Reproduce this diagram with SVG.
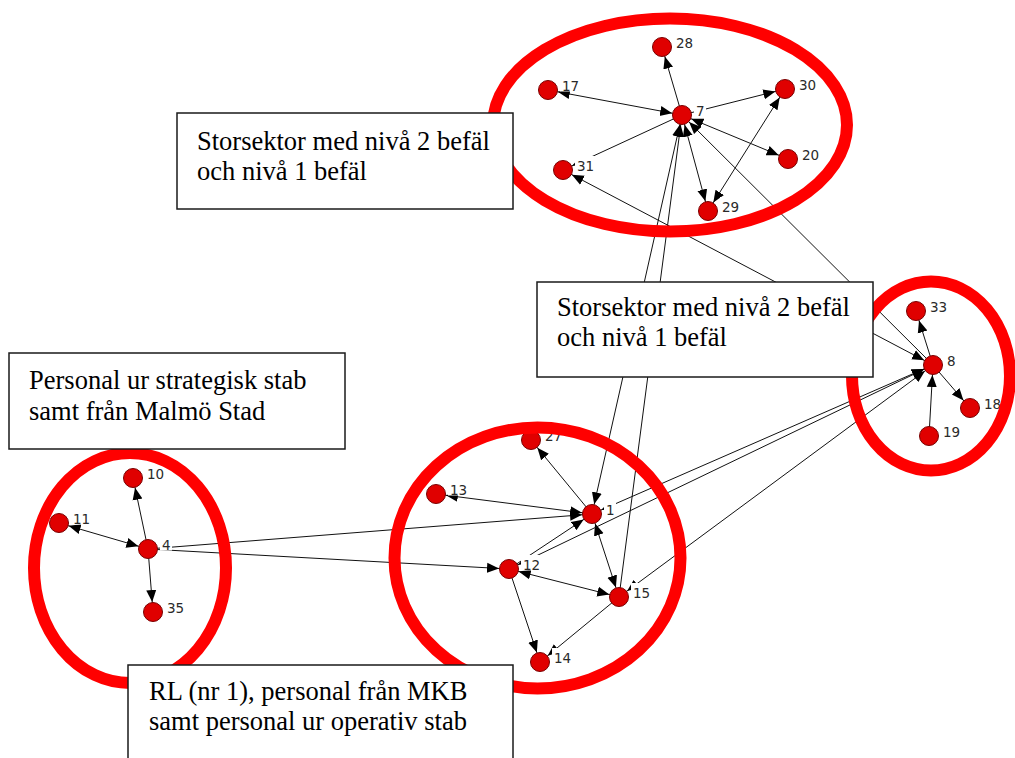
<svg xmlns="http://www.w3.org/2000/svg" width="1015" height="758" viewBox="0 0 1015 758">
<style>
.e{stroke:#111;stroke-width:1;fill:none}
.a{marker-end:url(#ah)}
.b{marker-start:url(#ah);marker-end:url(#ah)}
.n circle{fill:#e00000;stroke:#7a0000;stroke-width:1}
.n rect{fill:#fff}
.n text{font-family:"DejaVu Sans",sans-serif;font-size:13.5px;fill:#2a2a2a}
.ring{fill:none;stroke:#ff0000;stroke-width:12}
.box rect{fill:#fff;stroke:#1a1a1a;stroke-width:1.5}
.box text{font-family:"Liberation Serif","Times New Roman",serif;font-size:26.5px;fill:#000}
</style>
<defs>
<marker id="ah" markerUnits="userSpaceOnUse" markerWidth="24" markerHeight="12" viewBox="0 -6 24 12" refX="22" refY="0" orient="auto-start-reverse"><path d="M0,-5L12,0L0,5z" fill="#000"/></marker>
</defs>
<rect width="1015" height="758" fill="#fff"/>
<g id="connectors">
<line class="e a" x1="682" y1="115" x2="662" y2="47"/>
<line class="e b" x1="548" y1="90" x2="682" y2="115"/>
<line class="e a" x1="682" y1="115" x2="785" y2="89"/>
<line class="e b" x1="682" y1="115" x2="788" y2="159"/>
<line class="e a" x1="682" y1="115" x2="563" y2="170"/>
<line class="e b" x1="682" y1="115" x2="708" y2="211"/>
<line class="e b" x1="785" y1="89" x2="708" y2="211"/>
<line class="e b" x1="592" y1="514" x2="682" y2="115"/>
<line class="e a" x1="619" y1="597" x2="682" y2="115"/>
<line class="e a" x1="933" y1="365" x2="682" y2="115"/>
<line class="e b" x1="933" y1="365" x2="563" y2="170"/>
<line class="e a" x1="933" y1="365" x2="916" y2="311"/>
<line class="e a" x1="933" y1="365" x2="970" y2="408"/>
<line class="e a" x1="929" y1="436" x2="933" y2="365"/>
<line class="e a" x1="148" y1="549" x2="133" y2="478"/>
<line class="e b" x1="59" y1="523" x2="148" y2="549"/>
<line class="e a" x1="148" y1="549" x2="153" y2="612"/>
<line class="e a" x1="148" y1="549" x2="592" y2="514"/>
<line class="e a" x1="148" y1="549" x2="509" y2="569"/>
<line class="e a" x1="592" y1="514" x2="531" y2="440"/>
<line class="e b" x1="436" y1="494" x2="592" y2="514"/>
<line class="e a" x1="509" y1="569" x2="592" y2="514"/>
<line class="e b" x1="592" y1="514" x2="619" y2="597"/>
<line class="e b" x1="509" y1="569" x2="619" y2="597"/>
<line class="e a" x1="509" y1="569" x2="540" y2="662"/>
<line class="e a" x1="619" y1="597" x2="540" y2="662"/>
<line class="e b" x1="592" y1="514" x2="933" y2="365"/>
<line class="e b" x1="509" y1="569" x2="933" y2="365"/>
<line class="e b" x1="619" y1="597" x2="933" y2="365"/>
</g>
<g id="n28" class="n"><rect x="674" y="33" width="20" height="15.5"/><circle cx="662" cy="47" r="9.5"/><text x="676" y="48">28</text></g>
<g id="n17" class="n"><rect x="560" y="76" width="20" height="15.5"/><circle cx="548" cy="90" r="9.5"/><text x="562" y="91">17</text></g>
<g id="n7" class="n"><rect x="694" y="101" width="12" height="15.5"/><circle cx="682" cy="115" r="9.5"/><text x="696" y="116">7</text></g>
<g id="n30" class="n"><rect x="797" y="75" width="20" height="15.5"/><circle cx="785" cy="89" r="9.5"/><text x="799" y="90">30</text></g>
<g id="n20" class="n"><rect x="800" y="145" width="20" height="15.5"/><circle cx="788" cy="159" r="9.5"/><text x="802" y="160">20</text></g>
<g id="n31" class="n"><rect x="575" y="156" width="20" height="15.5"/><circle cx="563" cy="170" r="9.5"/><text x="577" y="171">31</text></g>
<g id="n29" class="n"><rect x="720" y="197" width="20" height="15.5"/><circle cx="708" cy="211" r="9.5"/><text x="722" y="212">29</text></g>
<g id="n33" class="n"><rect x="928" y="297" width="20" height="15.5"/><circle cx="916" cy="311" r="9.5"/><text x="930" y="312">33</text></g>
<g id="n8" class="n"><rect x="945" y="351" width="12" height="15.5"/><circle cx="933" cy="365" r="9.5"/><text x="947" y="366">8</text></g>
<g id="n18" class="n"><rect x="982" y="394" width="20" height="15.5"/><circle cx="970" cy="408" r="9.5"/><text x="984" y="409">18</text></g>
<g id="n19" class="n"><rect x="941" y="422" width="20" height="15.5"/><circle cx="929" cy="436" r="9.5"/><text x="943" y="437">19</text></g>
<g id="n10" class="n"><rect x="145" y="464" width="20" height="15.5"/><circle cx="133" cy="478" r="9.5"/><text x="147" y="479">10</text></g>
<g id="n11" class="n"><rect x="71" y="509" width="20" height="15.5"/><circle cx="59" cy="523" r="9.5"/><text x="73" y="524">11</text></g>
<g id="n4" class="n"><rect x="160" y="535" width="12" height="15.5"/><circle cx="148" cy="549" r="9.5"/><text x="162" y="550">4</text></g>
<g id="n35" class="n"><rect x="165" y="598" width="20" height="15.5"/><circle cx="153" cy="612" r="9.5"/><text x="167" y="613">35</text></g>
<g id="n27" class="n"><rect x="543" y="426" width="20" height="15.5"/><circle cx="531" cy="440" r="9.5"/><text x="545" y="441">27</text></g>
<g id="n13" class="n"><rect x="448" y="480" width="20" height="15.5"/><circle cx="436" cy="494" r="9.5"/><text x="450" y="495">13</text></g>
<g id="n1" class="n"><rect x="604" y="500" width="12" height="15.5"/><circle cx="592" cy="514" r="9.5"/><text x="606" y="515">1</text></g>
<g id="n12" class="n"><rect x="521" y="555" width="20" height="15.5"/><circle cx="509" cy="569" r="9.5"/><text x="523" y="570">12</text></g>
<g id="n15" class="n"><rect x="631" y="583" width="20" height="15.5"/><circle cx="619" cy="597" r="9.5"/><text x="633" y="598">15</text></g>
<g id="n14" class="n"><rect x="552" y="648" width="20" height="15.5"/><circle cx="540" cy="662" r="9.5"/><text x="554" y="663">14</text></g>
<g id="rings">
<ellipse class="ring" cx="670" cy="125" rx="177" ry="106.5"/>
<ellipse class="ring" cx="931" cy="376" rx="79" ry="94.5"/>
<ellipse class="ring" cx="130" cy="568" rx="96" ry="115"/>
<ellipse class="ring" cx="537.5" cy="558" rx="143" ry="130.5" stroke-width="13"/>
</g>
<g id="boxA" class="box"><rect x="177" y="113" width="336" height="96"/><text x="197" y="150">Storsektor med nivå 2 befäl</text><text x="197" y="180">och nivå 1 befäl</text></g>
<g id="boxB" class="box"><rect x="537" y="282" width="336" height="95"/><text x="557" y="316">Storsektor med nivå 2 befäl</text><text x="557" y="346">och nivå 1 befäl</text></g>
<g id="boxC" class="box"><rect x="9" y="353" width="336" height="96"/><text x="29" y="389">Personal ur strategisk stab</text><text x="29" y="420">samt från Malmö Stad</text></g>
<g id="boxD" class="box"><rect x="128" y="665" width="385" height="110"/><text x="149" y="700">RL (nr 1), personal från MKB</text><text x="149" y="730">samt personal ur operativ stab</text></g>
</svg>
